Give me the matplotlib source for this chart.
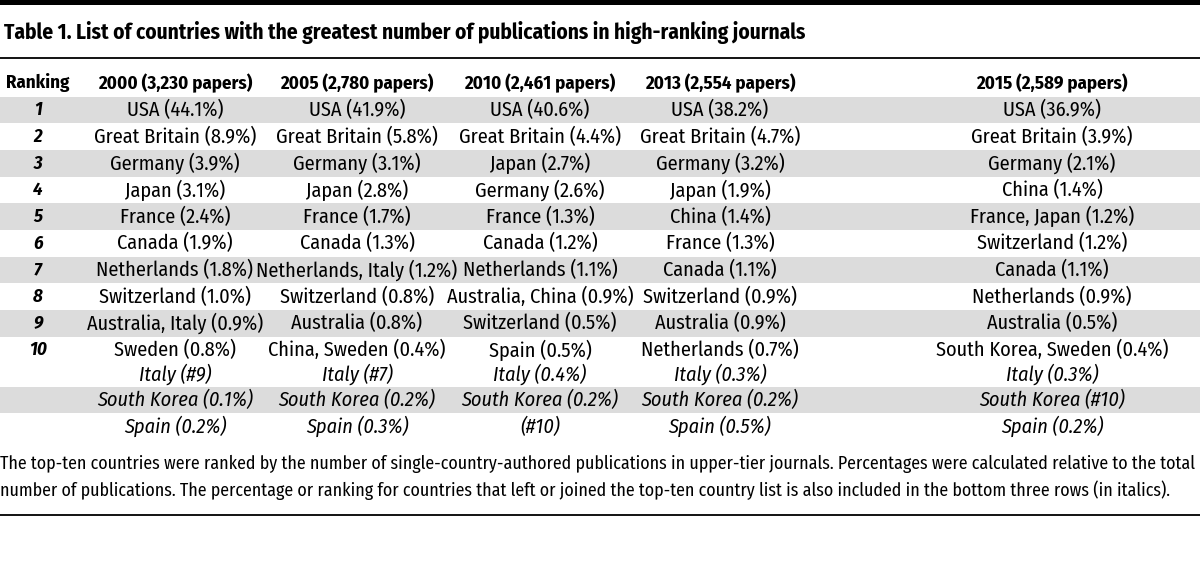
### Table of countries with most publications in high-ranking journals
import matplotlib
matplotlib.use('Agg')
import matplotlib.pyplot as plt
from matplotlib.patches import Rectangle
from matplotlib import font_manager

## Pick a narrow font if there is one
names = set(f.name for f in font_manager.fontManager.ttflist)
FONT = 'DejaVu Sans'
for cand in ['Fira Sans Condensed', 'Roboto Condensed', 'Archivo Narrow', 'PT Sans Narrow',
             'Liberation Sans Narrow']:
    if cand in names:
        FONT = cand
        break
plt.rcParams['font.family'] = [FONT, 'DejaVu Sans']

## Table data
title = 'Table 1. List of countries with the greatest number of publications in high-ranking journals'
headers = ['Ranking', '2000 (3,230 papers)', '2005 (2,780 papers)', '2010 (2,461 papers)',
           '2013 (2,554 papers)', '2015 (2,589 papers)']
ranks = ['1', '2', '3', '4', '5', '6', '7', '8', '9', '10']
col_2000 = ['USA (44.1%)', 'Great Britain (8.9%)', 'Germany (3.9%)', 'Japan (3.1%)', 'France (2.4%)',
            'Canada (1.9%)', 'Netherlands (1.8%)', 'Switzerland (1.0%)', 'Australia, Italy (0.9%)',
            'Sweden (0.8%)']
col_2005 = ['USA (41.9%)', 'Great Britain (5.8%)', 'Germany (3.1%)', 'Japan (2.8%)', 'France (1.7%)',
            'Canada (1.3%)', 'Netherlands, Italy (1.2%)', 'Switzerland (0.8%)', 'Australia (0.8%)',
            'China, Sweden (0.4%)']
col_2010 = ['USA (40.6%)', 'Great Britain (4.4%)', 'Japan (2.7%)', 'Germany (2.6%)', 'France (1.3%)',
            'Canada (1.2%)', 'Netherlands (1.1%)', 'Australia, China (0.9%)', 'Switzerland (0.5%)',
            'Spain (0.5%)']
col_2013 = ['USA (38.2%)', 'Great Britain (4.7%)', 'Germany (3.2%)', 'Japan (1.9%)', 'China (1.4%)',
            'France (1.3%)', 'Canada (1.1%)', 'Switzerland (0.9%)', 'Australia (0.9%)',
            'Netherlands (0.7%)']
col_2015 = ['USA (36.9%)', 'Great Britain (3.9%)', 'Germany (2.1%)', 'China (1.4%)', 'France, Japan (1.2%)',
            'Switzerland (1.2%)', 'Canada (1.1%)', 'Netherlands (0.9%)', 'Australia (0.5%)',
            'South Korea, Sweden (0.4%)']
## Italic rows for countries that left or joined the top ten
extra_italy = ['Italy (#9)', 'Italy (#7)', 'Italy (0.4%)', 'Italy (0.3%)', 'Italy (0.3%)']
extra_korea = ['South Korea (0.1%)', 'South Korea (0.2%)', 'South Korea (0.2%)', 'South Korea (0.2%)',
               'South Korea (#10)']
extra_spain = ['Spain (0.2%)', 'Spain (0.3%)', '(#10)', 'Spain (0.5%)', 'Spain (0.2%)']
foot_1 = ('The top-ten countries were ranked by the number of single-country-authored publications in '
          'upper-tier journals. Percentages were calculated relative to the total')
foot_2 = ('number of publications. The percentage or ranking for countries that left or joined the '
          'top-ten country list is also included in the bottom three rows (in italics).')

## Layout in pixels
col_x = [38, 175, 357, 540, 720, 1052]
row_top = 96.7
row_h = 26.67

## Figure with pixel axes
fig = plt.figure(figsize=(12, 5.8), dpi=100)
ax = fig.add_axes([0, 0, 1, 1])
ax.set_xlim(0, 1200)
ax.set_ylim(580, 0)
ax.axis('off')
renderer = fig.canvas.get_renderer()


## Font size that makes a text a given width in pixels
def fit_size(s, width, **kw):
    t = ax.text(0, 0, s, fontsize=10, **kw)
    w = t.get_window_extent(renderer).width
    t.remove()
    return 10 * width / w


fs = fit_size('Great Britain (8.9%)', 162)
fs_head = fit_size('2015 (2,589 papers)', 152, fontweight='bold')
fs_title = fit_size(title, 802, fontweight='bold')
fs_foot = fit_size(foot_1, 1192)

## Top bar and rules
ax.add_patch(Rectangle((0, 0), 1200, 4.5, color='black', lw=0))
ax.plot([0, 1200], [57.5, 57.5], color='black', lw=1.3)
ax.plot([0, 1200], [515, 515], color='black', lw=1.3)

## Title
ax.text(4, 33, title, fontsize=fs_title, fontweight='bold', ha='left', va='center')

## Headers
for x, h in zip(col_x, headers):
    ax.text(x, 83, h, fontsize=fs_head, fontweight='bold', ha='center', va='center')

## Shaded bands
for i in range(0, 10, 2):
    ax.add_patch(Rectangle((0, row_top + i * row_h), 1200, row_h, color='#dcdcdc', lw=0))
sk_top = row_top + 9 * row_h + 50
ax.add_patch(Rectangle((0, sk_top), 1200, row_h, color='#dcdcdc', lw=0))

## Ranked rows
cols = [col_2000, col_2005, col_2010, col_2013, col_2015]
for i, r in enumerate(ranks):
    y = row_top + (i + 0.5) * row_h
    ax.text(col_x[0], y, r, fontsize=fs_head, fontweight='bold', fontstyle='italic', ha='center', va='center')
    for j, c in enumerate(cols):
        ax.text(col_x[j + 1], y, c[i], fontsize=fs, ha='center', va='center')

## Italic rows
y_italy = row_top + 9.5 * row_h + 24
for j in range(5):
    ax.text(col_x[j + 1], y_italy, extra_italy[j], fontsize=fs, fontstyle='italic', ha='center', va='center')
    ax.text(col_x[j + 1], sk_top + row_h / 2, extra_korea[j], fontsize=fs, fontstyle='italic',
            ha='center', va='center')
    ax.text(col_x[j + 1], sk_top + 1.5 * row_h, extra_spain[j], fontsize=fs, fontstyle='italic',
            ha='center', va='center')

## Footnote
ax.text(0, 464, foot_1, fontsize=fs_foot, ha='left', va='center')
ax.text(0, 490, foot_2, fontsize=fs_foot, ha='left', va='center')

fig.savefig('out.png', dpi=100)
